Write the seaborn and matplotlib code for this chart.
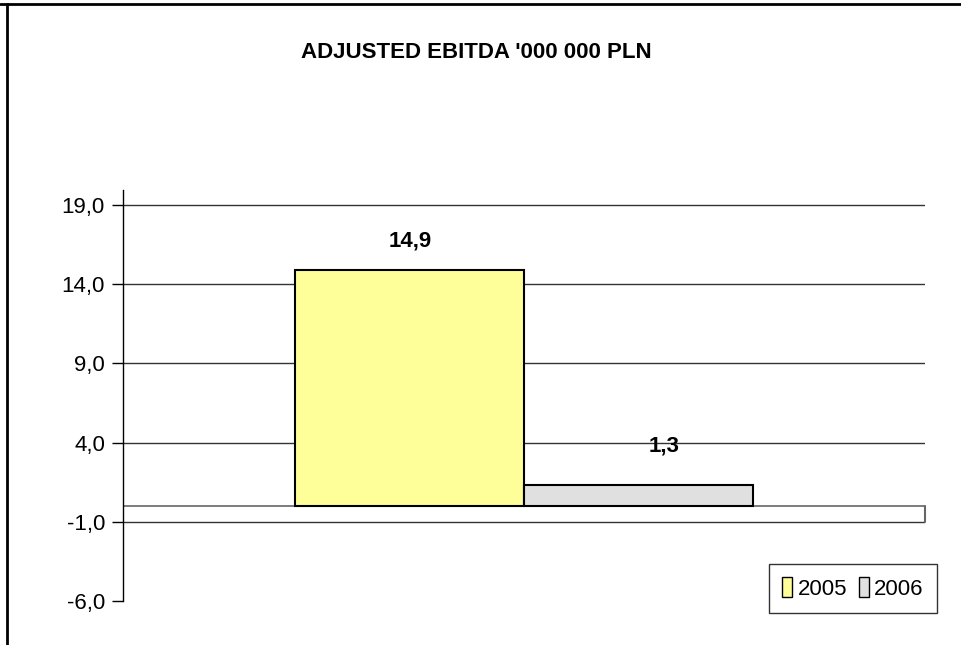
import matplotlib
matplotlib.use("Agg")
import matplotlib.pyplot as plt
import seaborn as sns
import pandas as pd
from matplotlib.lines import Line2D

title = "ADJUSTED EBITDA '000 000 PLN"
years = ["2005", "2006"]
values = [14.9, 1.3]
value_labels = ["14,9", "1,3"]
yticks = [-6.0, -1.0, 4.0, 9.0, 14.0, 19.0]
ytick_labels = ["-6,0", "-1,0", "4,0", "9,0", "14,0", "19,0"]
colors = ["#FFFF99", "#E0E0E0"]

sns.set_style("white")
plt.rcParams["font.family"] = ["Liberation Sans", "DejaVu Sans"]
plt.rcParams["text.color"] = "black"
plt.rcParams["ytick.color"] = "black"
plt.rcParams["ytick.labelcolor"] = "black"

df = pd.DataFrame({"cat": [""] * len(years), "year": years, "value": values})

fig = plt.figure(figsize=(9.61, 6.45), dpi=100)
ax = fig.add_axes([123 / 961, 44 / 645, (925 - 123) / 961, (601 - 190) / 645])

sns.barplot(data=df, x="cat", y="value", hue="year", palette=colors, saturation=1,
            width=0.572, dodge=True, edgecolor="black", linewidth=1.5,
            legend=False, ax=ax, zorder=3)

ax.set_xlim(-0.5, 0.5)
ax.set_ylim(-6, 19.95)
ax.set_yticks(yticks)
ax.set_yticklabels(ytick_labels, fontsize=16)
ax.set_xticks([])
ax.set_xlabel("")
ax.set_ylabel("")
ax.tick_params(axis="y", direction="out", length=8, width=1, color="black", pad=5, left=True)

for s in ["top", "right", "bottom"]:
    ax.spines[s].set_visible(False)
ax.spines["left"].set_color("black")
ax.spines["left"].set_linewidth(1)

for t in yticks[1:]:
    ax.axhline(t, color="#333333", lw=1, zorder=1)
# floor at zero
ax.axhline(0, color="#666666", lw=1.2, zorder=2)
ax.plot([1, 1], [0, -1], transform=ax.get_yaxis_transform(), color="#666666", lw=1.5, clip_on=False)

offsets = [(1, 29), (25, 39)]
for patch, lab, off in zip(ax.patches, value_labels, offsets):
    xc = patch.get_x() + patch.get_width() / 2
    ax.annotate(lab, xy=(xc, patch.get_height()), xytext=off, textcoords="offset pixels",
                ha="center", va="center", fontsize=16, fontweight="bold", color="black")

fig.text(476 / 961, 1 - 52 / 645, title, ha="center", va="center", fontsize=16,
         fontweight="bold", color="black")

handles = [plt.Rectangle((0, 0), 1, 1, facecolor=c, edgecolor="black", lw=1) for c in colors]
leg = fig.legend(handles, years, loc="lower right", bbox_to_anchor=(937 / 961, 32 / 645),
                 ncol=2, fontsize=16, frameon=True, fancybox=False, handlelength=0.45,
                 handleheight=1.0, handletextpad=0.25, columnspacing=0.5, borderpad=0.6,
                 borderaxespad=0)
leg.get_frame().set_edgecolor("black")
leg.get_frame().set_linewidth(1)

# outer frame (top and left edges visible)
fig.add_artist(Line2D([0, 1], [1 - 4 / 645] * 2, transform=fig.transFigure, color="black", lw=2))
fig.add_artist(Line2D([7 / 961] * 2, [0, 1 - 4 / 645], transform=fig.transFigure, color="black", lw=2))

fig.savefig("out.png", dpi=100)
